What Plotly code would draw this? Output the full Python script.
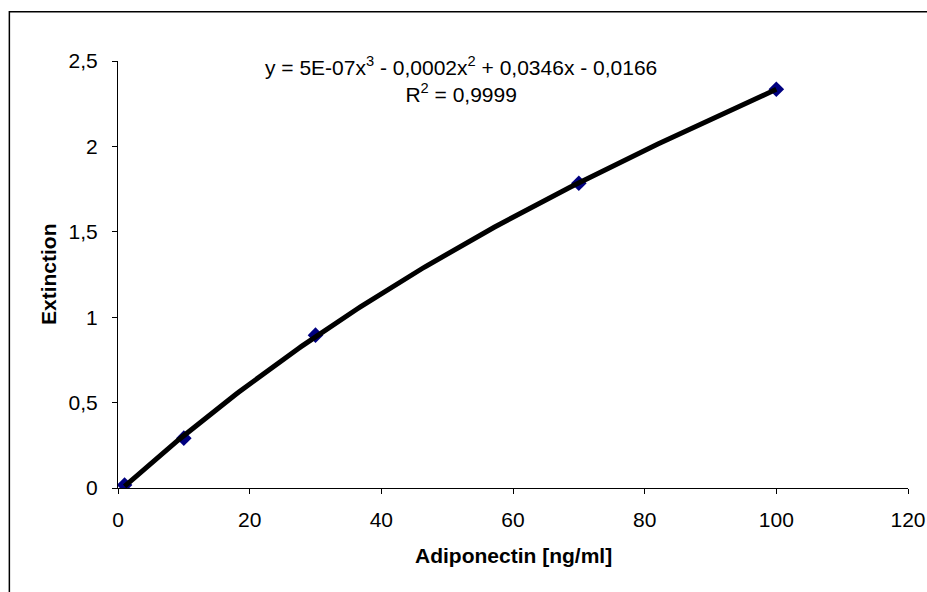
import numpy as np
import plotly.graph_objects as go

# Data
concentration = [1, 10, 30, 70, 100]          # Adiponectin [ng/ml]
extinction = [0.018, 0.292, 0.895, 1.784, 2.335]
x_ticks = [0, 20, 40, 60, 80, 100, 120]
x_tick_labels = ["0", "20", "40", "60", "80", "100", "120"]
y_ticks = [0, 0.5, 1, 1.5, 2, 2.5]
y_tick_labels = ["0", "0,5", "1", "1,5", "2", "2,5"]
x_title = "<b>Adiponectin [ng/ml]</b>"
y_title = "<b>Extinction</b>"
equation_text = "y = 5E-07x<sup>3</sup> - 0,0002x<sup>2</sup> + 0,0346x - 0,0166<br>R<sup>2</sup> = 0,9999"

# Polynomial (order 3) trendline fitted to the data, as in the spreadsheet
coef = np.polyfit(concentration, extinction, 3)
xf = np.linspace(min(concentration), max(concentration), 200)
yf = np.polyval(coef, xf)

FONT = "Liberation Sans, Arial, sans-serif"

fig = go.Figure()
fig.add_trace(go.Scatter(
    x=concentration, y=extinction, mode="markers",
    marker=dict(symbol="diamond", size=12, color="#000080"),
    showlegend=False, hoverinfo="x+y"))
fig.add_trace(go.Scatter(
    x=xf, y=yf, mode="lines",
    line=dict(color="black", width=5),
    showlegend=False, hoverinfo="skip"))

# body margin is removed in post_script, so figure pixels == page pixels
W, H = 927, 592
L, R, T = 117.5, 927 - 908.3, 60.8
B = H - 488.3
pw, ph = W - L - R, H - T - B

def px(p):
    return (p - L) / pw

def py(p):
    return (H - B - p) / ph

fig.update_layout(
    width=W, height=H,
    margin=dict(l=L, r=R, t=T, b=B, autoexpand=False),
    paper_bgcolor="white", plot_bgcolor="white",
    font=dict(family=FONT, size=21, color="black"),
    xaxis=dict(
        range=[0, 120], tickvals=x_ticks, ticktext=x_tick_labels,
        showgrid=False, zeroline=False, showline=True, linecolor="black", linewidth=1,
        ticks="outside", ticklen=5, tickcolor="black", tickwidth=1,
        ticklabelstandoff=8, automargin=False,
    ),
    yaxis=dict(
        range=[0, 2.5], tickvals=y_ticks, ticktext=y_tick_labels,
        showgrid=False, zeroline=False, showline=True, linecolor="black", linewidth=1,
        ticks="outside", ticklen=5, tickcolor="black", tickwidth=1,
        ticklabelstandoff=10, automargin=False,
    ),
    annotations=[
        dict(x=px(461), y=py(79), xref="paper", yref="paper",
             text=equation_text, showarrow=False, align="center",
             xanchor="center", yanchor="middle", font=dict(size=21)),
        dict(x=px(513), y=py(556), xref="paper", yref="paper",
             text=x_title, showarrow=False, xanchor="center", yanchor="middle",
             font=dict(size=21)),
        dict(x=px(48.5), y=py(274), xref="paper", yref="paper",
             text=y_title, showarrow=False, xanchor="center", yanchor="middle",
             textangle=-90, font=dict(size=21)),
    ],
    shapes=[dict(
        type="rect", xref="paper", yref="paper",
        x0=px(8.75), x1=px(940),
        y0=py(605), y1=py(11.5),
        line=dict(color="black", width=1.5), fillcolor="rgba(0,0,0,0)", layer="below")],
)

fig.write_html(
    "out.html",
    config={"displayModeBar": False},
    post_script="document.body.style.margin='0';document.body.style.overflow='hidden';",
)
